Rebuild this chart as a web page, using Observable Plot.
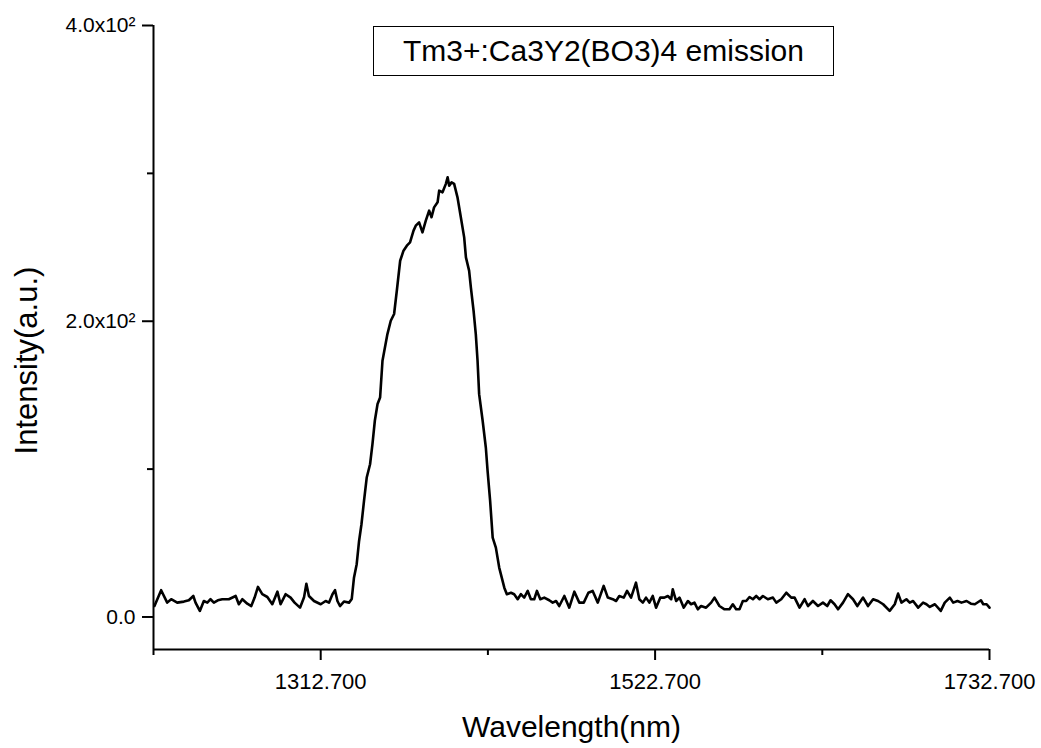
<!DOCTYPE html>
<html>
<head>
<meta charset="utf-8">
<script src="https://cdn.jsdelivr.net/npm/d3@7"></script>
<script src="https://cdn.jsdelivr.net/npm/@observablehq/plot@0.6"></script>
<style>
  html, body { margin: 0; padding: 0; background: #fff; }
  #wrap { position: relative; width: 1041px; height: 748px; font-family: "Liberation Sans", Arial, sans-serif; }
  #legend {
    position: absolute; left: 373px; top: 26px; width: 459px; height: 48px;
    border: 1px solid #000; background: #fff;
    display: flex; align-items: center; justify-content: center;
    font-size: 30px; color: #000; white-space: nowrap;
  }
</style>
</head>
<body>
<div id="wrap"></div>
<script>
// ---- data ----
const wavelength = [
  1208.3,1212.5,1216.3,1218.8,1222.6,1226.8,1229.9,1232.7,1234.1,1236.8,
  1239.3,1241.5,1243.5,1245.6,1248.1,1250.9,1255.0,1259.3,1261.3,1263.5,
  1266.6,1269.1,1271.2,1273.3,1276.0,1279.2,1282.3,1285.5,1287.5,1290.7,
  1293.8,1296.3,1299.7,1302.2,1303.7,1305.3,1308.5,1312.7,1315.8,1317.9,
  1320.1,1321.7,1323.2,1324.8,1327.3,1330.5,1332.2,1333.6,1335.3,1336.8,
  1338.3,1339.9,1341.6,1343.7,1345.2,1346.7,1348.4,1350.0,1351.5,1354.6,
  1356.7,1358.8,1360.5,1362.6,1364.7,1366.8,1368.8,1371.0,1372.4,1374.5,
  1376.6,1378.7,1380.8,1382.3,1383.9,1386.1,1387.1,1389.2,1391.3,1392.4,
  1393.4,1394.9,1396.5,1398.6,1400.7,1402.8,1403.9,1405.9,1407.0,1408.7,
  1410.1,1411.2,1412.2,1414.4,1416.4,1417.5,1419.1,1420.7,1422.7,1424.8,
  1428.0,1429.6,1432.2,1434.2,1436.4,1438.4,1440.5,1442.7,1444.7,1446.8,
  1448.5,1450.6,1453.1,1456.2,1458.4,1460.5,1462.5,1465.7,1468.8,1472.0,
  1475.1,1477.9,1480.8,1483.5,1486.7,1490.4,1493.0,1496.1,1498.2,1500.2,
  1503.0,1505.1,1507.6,1510.7,1512.8,1515.0,1517.0,1519.1,1521.2,1523.3,
  1526.0,1528.5,1530.7,1532.8,1533.8,1535.9,1538.0,1540.7,1543.3,1545.3,
  1547.4,1549.5,1551.6,1554.7,1557.9,1560.0,1563.1,1566.3,1569.4,1571.5,
  1573.6,1575.7,1577.8,1579.9,1582.0,1584.1,1586.2,1588.3,1590.4,1593.5,
  1596.7,1598.8,1601.9,1605.1,1608.2,1610.3,1613.4,1616.6,1618.7,1621.8,
  1625.0,1628.1,1630.8,1632.9,1635.4,1637.6,1640.7,1643.8,1647.0,1649.7,
  1653.3,1656.4,1659.6,1662.7,1665.9,1670.0,1673.2,1675.3,1677.4,1680.5,
  1682.6,1684.7,1687.9,1691.0,1693.1,1695.2,1698.4,1702.1,1704.6,1707.8,
  1709.9,1712.6,1715.1,1718.3,1721.0,1723.5,1727.3,1728.8,1730.9,1732.7
];
const intensity = [
  7.4,18.1,9.7,12.0,9.7,10.4,11.3,14.2,9.7,4.1,
  10.8,9.7,12.0,9.7,11.3,12.0,12.0,14.2,8.6,12.0,
  9.0,7.4,13.1,20.3,15.4,13.5,8.6,17.1,8.6,15.4,
  13.1,9.7,6.3,13.1,22.5,14.2,10.8,8.6,10.8,9.7,
  15.4,18.1,10.8,7.4,10.4,9.7,12.2,26.6,35.7,51.4,
  62.7,78.5,94.3,103.3,116.9,132.7,144.0,148.4,173.3,191.3,
  200.3,204.9,220.6,240.9,247.7,251.1,253.3,261.3,264.6,266.9,
  260.1,268.0,274.8,270.3,277.0,280.4,288.3,287.2,292.9,297.3,
  291.7,293.9,292.9,283.8,270.3,256.7,243.2,234.2,222.9,207.1,
  191.3,173.3,150.7,132.7,114.6,98.8,78.5,53.7,46.9,33.4,
  19.8,15.4,16.4,15.4,12.0,15.4,13.1,17.6,12.0,12.0,
  17.6,12.0,13.1,11.3,9.7,10.8,7.4,14.2,6.3,17.1,
  9.7,9.7,16.4,17.6,9.7,21.0,13.1,12.0,10.8,14.2,
  13.1,17.6,13.1,23.2,12.0,9.7,13.1,9.7,14.2,6.3,
  13.1,13.1,14.2,12.0,18.7,10.8,13.1,6.3,10.8,8.6,
  9.7,5.2,7.4,6.3,9.7,13.1,7.4,5.2,5.2,8.6,
  5.2,5.2,10.8,10.8,13.5,12.0,14.2,12.0,14.2,12.0,
  13.1,9.7,12.0,16.4,13.1,13.1,6.3,12.0,7.4,10.8,
  7.4,9.7,7.4,11.3,8.6,5.2,9.7,15.4,12.0,7.4,
  13.1,7.4,12.0,10.8,8.6,4.1,8.6,15.8,9.7,12.0,
  9.7,10.8,6.3,9.7,8.6,6.8,8.6,4.1,9.7,13.1,
  9.7,10.8,9.7,10.8,9.0,8.6,11.3,8.6,8.6,6.3
];
const xDomain = [1207.7, 1732.7];
const yDomain = [-22, 400];
const xTicks = [1312.7, 1522.7, 1732.7];
const xTickLabels = ["1312.700", "1522.700", "1732.700"];
const xMinorTicks = [1207.7, 1417.7, 1627.7];
const yTicks = [0, 200, 400];
const yTickLabels = ["0.0", "2.0x10\u00B2", "4.0x10\u00B2"];
const yMinorTicks = [100, 300];
const xTitle = "Wavelength(nm)";
const yTitle = "Intensity(a.u.)";
const legendText = "Tm3+:Ca3Y2(BO3)4 emission";

const data = wavelength.map((w, i) => ({w, v: intensity[i]}));

const chart = Plot.plot({
  width: 1041,
  height: 748,
  marginLeft: 153,
  marginRight: 52,
  marginTop: 25,
  marginBottom: 99,
  x: {domain: xDomain},
  y: {domain: yDomain},
  style: {fontFamily: "'Liberation Sans', Arial, sans-serif", fontSize: "21px", color: "#000", background: "#fff", overflow: "visible"},
  marks: [
    Plot.line(data, {x: "w", y: "v", stroke: "#000", strokeWidth: 2.6, strokeLinejoin: "round"}),
    Plot.ruleX([xDomain[0]], {stroke: "#000", strokeWidth: 2}),
    Plot.ruleY([yDomain[0]], {stroke: "#000", strokeWidth: 2}),
    // tick marks
    Plot.axisX(xTicks, {tickSize: 11, strokeWidth: 2, tickFormat: () => "", label: null}),
    Plot.axisX(xMinorTicks, {tickSize: 6, strokeWidth: 2, tickFormat: () => "", label: null}),
    Plot.axisY(yTicks, {tickSize: 11, strokeWidth: 2, tickFormat: () => "", label: null}),
    Plot.axisY(yMinorTicks, {tickSize: 6, strokeWidth: 2, tickFormat: () => "", label: null}),
    // tick labels
    Plot.text(xTicks, {x: d => d, text: d => xTickLabels[xTicks.indexOf(d)], frameAnchor: "bottom",
      lineAnchor: "top", dy: 24, fontSize: 22, fill: "#000"}),
    Plot.text(yTicks, {y: d => d, text: d => yTickLabels[yTicks.indexOf(d)], frameAnchor: "left",
      textAnchor: "end", lineAnchor: "middle", dx: -18, fontSize: 21, fill: "#000"}),
    // axis titles
    Plot.text([xTitle], {frameAnchor: "bottom", dy: 87, fontSize: 30, fill: "#000"}),
    Plot.text([yTitle], {frameAnchor: "left", textAnchor: "middle", dx: -126, dy: 23, rotate: -90, fontSize: 31, fill: "#000"})
  ]
});

const wrap = document.getElementById("wrap");
wrap.appendChild(chart);
const legend = document.createElement("div");
legend.id = "legend";
legend.textContent = legendText;
wrap.appendChild(legend);
</script>
</body>
</html>
